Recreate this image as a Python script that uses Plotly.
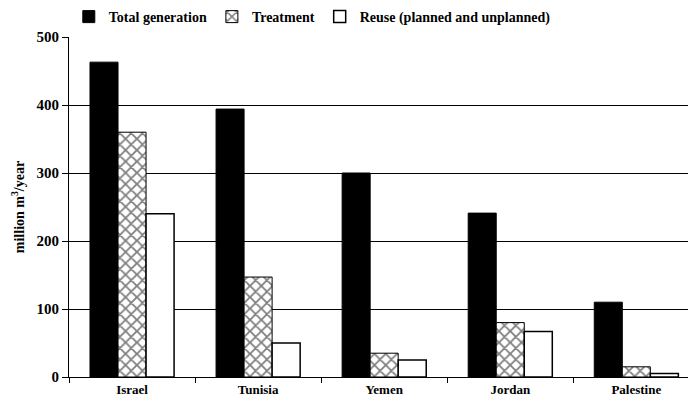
import plotly.graph_objects as go

countries = ["Israel", "Tunisia", "Yemen", "Jordan", "Palestine"]
total_generation = [463, 394, 300, 241, 110]
treatment = [360, 147, 35, 80, 15]
reuse = [240, 50, 25, 67, 5]
y_ticks = [0, 100, 200, 300, 400, 500]

FONT = "Liberation Serif, Times New Roman, serif"

fig = go.Figure()
fig.add_trace(go.Bar(name="Total generation", x=countries, y=total_generation,
                     marker=dict(color="black", line=dict(color="black", width=1))))
fig.add_trace(go.Bar(name="Treatment", x=countries, y=treatment,
                     marker=dict(color="white", line=dict(color="black", width=1),
                                 pattern=dict(shape="x", fgcolor="black", bgcolor="white",
                                              size=8, solidity=0.4))))
fig.add_trace(go.Bar(name="Reuse (planned and unplanned)", x=countries, y=reuse,
                     marker=dict(color="white", line=dict(color="black", width=1.5))))

fig.update_layout(
    width=688, height=405,
    margin=dict(l=69, r=0, t=37, b=28, autoexpand=False),
    paper_bgcolor="white", plot_bgcolor="white",
    barmode="group", bargap=0.333, bargroupgap=0,
    font=dict(family=FONT, color="black", size=13, weight="bold"),
    legend=dict(orientation="h", xref="container", yref="container",
                x=0.1, y=0.958, xanchor="left", yanchor="middle",
                font=dict(family=FONT, size=14, color="black", weight="bold"),
                itemwidth=30, tracegroupgap=0, bgcolor="rgba(0,0,0,0)"),
    showlegend=True,
)
fig.update_xaxes(range=[-0.5, 4.41], showline=True, linecolor="black", linewidth=1,
                 ticks="outside", tickson="boundaries", ticklen=5, tickcolor="black",
                 showgrid=False, automargin=False,
                 tickfont=dict(family=FONT, size=13, color="black", weight="bold"))
fig.update_yaxes(range=[0, 500], tickvals=y_ticks, showline=True, linecolor="black", linewidth=1,
                 ticks="outside", ticklen=6, tickcolor="black",
                 showgrid=True, gridcolor="black", gridwidth=1, zeroline=False, automargin=False,
                 tickfont=dict(family=FONT, size=15, color="black", weight="bold"),
                 title=dict(text="million m<sup>3</sup>/year",
                            font=dict(family=FONT, size=14, color="black", weight="bold"), standoff=8))

fig.write_html("out.html", config={"displayModeBar": False},
               post_script="document.body.style.margin='0';")
